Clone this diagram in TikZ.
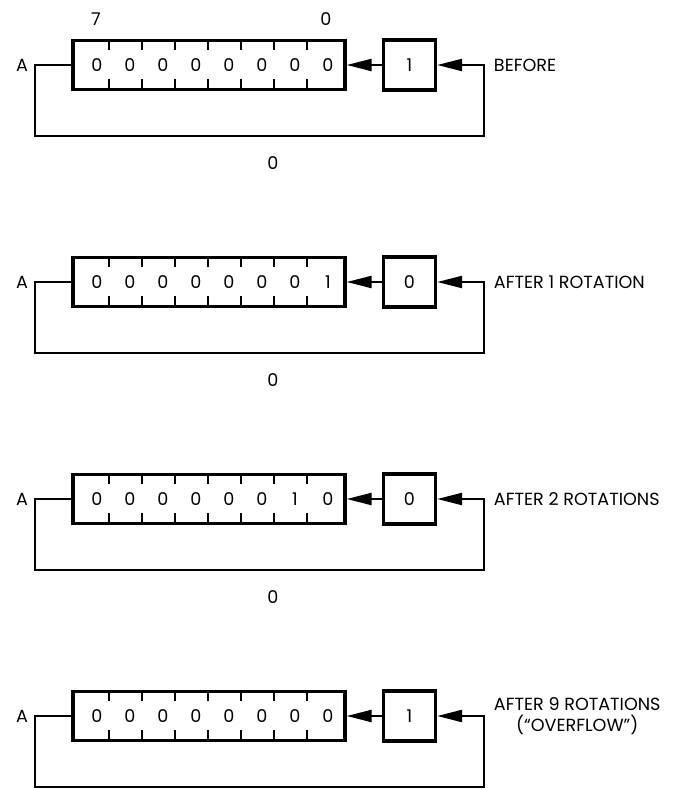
\documentclass[tikz,border=0pt]{standalone}
\usepackage{fontspec}
\setmainfont{Poppins}
\usetikzlibrary{arrows.meta,positioning}

\begin{document}
\begin{tikzpicture}[x=0.025cm,y=-0.025cm,font=\fontsize{12.5}{15}\selectfont,
 >={Triangle[length=0.62cm,width=0.3cm]},line width=1.4pt]
\useasboundingbox (0,0) rectangle (676,789);
\tikzset{reg/.style={draw,line width=2.4pt,minimum width=6.8cm,minimum height=1.225cm,inner sep=0pt},
 cbox/.style={draw,line width=2.4pt,minimum width=1.3cm,minimum height=1.25cm,inner sep=0pt},
 tick/.style={line width=1.8pt}}
% bit numbers
\node(b7) at (96,19){7};
\node(b0) at (326,19){0};
\foreach \y/\b/\c/\t [count=\p] in {65/{0,0,0,0,0,0,0,0}/1/BEFORE,
 282/{0,0,0,0,0,0,0,1}/0/AFTER 1 ROTATION,
 499/{0,0,0,0,0,0,1,0}/0/AFTER 2 ROTATIONS,
 716/{0,0,0,0,0,0,0,0}/1/{AFTER 9 ROTATIONS\\(“OVERFLOW”)}}
{
 \node[reg](r\p) at (209,\y){};
 \node[cbox](c\p) at (409.5,\y){\c};
 \foreach \d [count=\k from 0] in \b {\node(d\p\k) at (97+33*\k,\y){\d};}
 \foreach \k in {0,...,6}
  {\draw[tick](109+33*\k,\y-25)--++(0,10) (109+33*\k,\y+24)--++(0,-10);}
 \node(a\p) at (22,\y){A};
 \node[anchor=west,align=center,inner sep=0pt](t\p) at (493,\y){\t};
 \coordinate(lt\p) at (35,\y);
 \coordinate(rt\p) at (484,\y);
 \draw[->](c\p.west)--(r\p.east);
 \draw[->](r\p.west)--(lt\p)--++(0,71)-|(rt\p)--(c\p.east);
}
% carry-in bits
\foreach \p/\y in {1/65,2/282,3/499} \node(z\p) at (273,\y+98){0};
\end{tikzpicture}
\end{document}
